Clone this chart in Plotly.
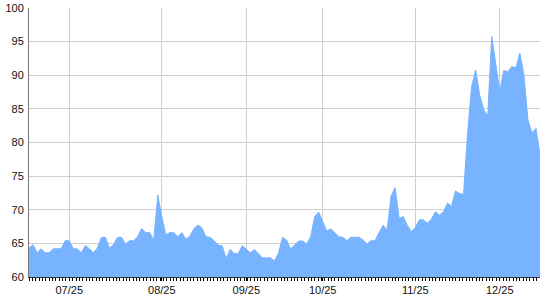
import plotly.graph_objects as go

# Values (one per trading-day category)
values = [
    64.3, 64.8, 63.6, 64.2, 63.6, 63.6, 64.2, 64.2, 64.2, 65.4,
    65.4, 64.2, 64.2, 63.6, 64.7, 64.2, 63.6, 64.3, 65.9, 65.9,
    64.3, 64.8, 65.9, 65.9, 64.9, 65.4, 65.4, 66.0, 67.2, 66.6,
    66.6, 65.5, 72.2, 69.0, 66.3, 66.6, 66.6, 66.0,
    66.6, 65.6, 66.1, 67.2, 67.75, 67.25, 66.0, 65.9, 65.4, 64.75,
    64.65, 62.75, 64.1, 63.5, 63.5, 64.65, 64.1, 63.6, 64.1, 63.4,
    62.85, 62.85, 62.85, 62.4, 63.5, 65.9, 65.5, 64.15, 64.75, 65.35,
    65.35, 64.9, 66.0, 69.0, 69.65, 68.25, 66.85, 67.15, 66.6, 66.0,
    65.9, 65.4, 65.9, 65.9, 65.9, 65.5,
    64.9, 65.4, 65.4, 66.6, 67.7, 67.0, 72.1, 73.3, 68.7, 69.0,
    67.7, 66.75, 67.3, 68.5, 68.5, 68.0, 68.6, 69.7, 69.2, 69.7,
    71.0, 70.5, 72.8, 72.4, 72.3, 81.4, 88.3, 90.8, 87.1, 84.9,
    83.9, 95.8, 91.8, 87.6, 90.7, 90.5, 91.3, 91.1, 93.3, 90.1,
    83.4, 81.4, 82.1, 78.2,
]

tick_labels = ["07/25", "08/25", "09/25", "10/25", "11/25", "12/25"]
tick_index = [10, 33, 54, 73, 96, 117]

x = list(range(len(values)))

fill_color = "rgb(119,179,255)"

fig = go.Figure(
    go.Scatter(
        x=x,
        y=values,
        mode="lines",
        fill="tozeroy",
        fillcolor=fill_color,
        line=dict(color=fill_color, width=1),
        hoverinfo="skip",
    )
)

fig.update_layout(
    width=540,
    height=300,
    margin=dict(l=29, r=0, t=8, b=23),
    paper_bgcolor="white",
    plot_bgcolor="white",
    showlegend=False,
    font=dict(family="Liberation Sans, Arial, sans-serif", size=11, color="#111"),
)

fig.update_xaxes(
    range=[0, len(values) - 1],
    tickmode="array",
    tickvals=tick_index,
    ticktext=tick_labels,
    showgrid=True,
    gridcolor="#d0d0d0",
    gridwidth=1,
    ticks="outside",
    ticklen=3,
    tickcolor="#000",
    showline=True,
    linecolor="#333",
    linewidth=1,
    zeroline=False,
    minor=dict(dtick=(len(values) - 1) / 152, tick0=0, ticks="outside",
               ticklen=3, tickcolor="#000", showgrid=False),
)

fig.update_yaxes(
    range=[60, 100],
    dtick=5,
    tick0=60,
    showgrid=True,
    gridcolor="#d0d0d0",
    gridwidth=1,
    ticks="",
    showline=True,
    linecolor="#777",
    linewidth=1,
    zeroline=False,
    ticklabelstandoff=2,
)

fig.write_html("out.html")
